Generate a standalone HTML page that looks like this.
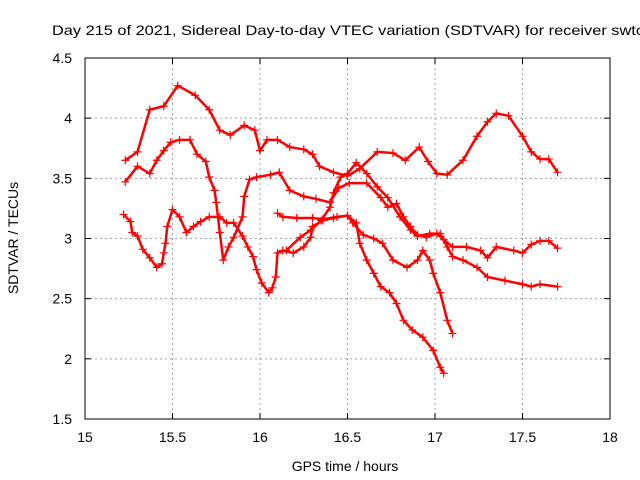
<!DOCTYPE html>
<html><head><meta charset="utf-8"><style>
body{margin:0;background:#fff;}
svg{display:block;font-family:"Liberation Sans",sans-serif;}
</style></head><body>
<svg id="chart" width="640" height="480" viewBox="0 0 640 480" xmlns="http://www.w3.org/2000/svg">
<rect width="640" height="480" fill="#fff"/>
<text x="52" y="35" font-size="14" fill="#000" textLength="592" lengthAdjust="spacingAndGlyphs">Day 215 of 2021, Sidereal Day-to-day VTEC variation (SDTVAR) for receiver swtc</text>
<g id="grid"></g>
<g id="marks"></g>
<rect x="85" y="58" width="525" height="361" fill="none" stroke="#000" stroke-width="1"/>
<g id="ticks"></g>
<text x="345" y="471" font-size="14" text-anchor="middle">GPS time / hours</text>
<text transform="translate(18,238) rotate(-90)" font-size="14" text-anchor="middle">SDTVAR / TECUs</text>
</svg>
<script>
const xTicks=[15,15.5,16,16.5,17,17.5,18];
const xTickLabels=["15","15.5","16","16.5","17","17.5","18"];
const yTicks=[1.5,2,2.5,3,3.5,4,4.5];
const yTickLabels=["1.5","2","2.5","3","3.5","4","4.5"];
const seriesA=[[15.23,3.65],[15.3,3.72],[15.37,4.07],[15.45,4.1],[15.53,4.27],[15.63,4.19],[15.71,4.07],[15.77,3.9],[15.83,3.86],[15.91,3.94],[15.97,3.9],[16.0,3.73],[16.04,3.82],[16.1,3.82],[16.17,3.76],[16.25,3.74],[16.3,3.7],[16.34,3.6],[16.42,3.55],[16.5,3.52],[16.57,3.58],[16.67,3.72],[16.76,3.71],[16.83,3.65],[16.91,3.76],[16.96,3.64],[17.01,3.54],[17.07,3.53],[17.16,3.65],[17.24,3.85],[17.3,3.97],[17.35,4.04],[17.42,4.02],[17.5,3.85],[17.55,3.72],[17.6,3.66],[17.65,3.66],[17.7,3.55]];
const seriesB=[[15.23,3.47],[15.3,3.6],[15.37,3.54],[15.41,3.65],[15.45,3.73],[15.49,3.8],[15.54,3.82],[15.6,3.82],[15.64,3.7],[15.69,3.64],[15.71,3.51],[15.74,3.4],[15.75,3.3],[15.77,3.05],[15.79,2.82],[15.82,2.93],[15.85,3.01],[15.9,3.18],[15.91,3.35],[15.94,3.49],[15.98,3.51],[16.06,3.53],[16.11,3.55],[16.17,3.4],[16.25,3.35],[16.32,3.33],[16.4,3.3],[16.45,3.42],[16.51,3.46],[16.61,3.46],[16.69,3.34],[16.73,3.26],[16.78,3.29],[16.82,3.18],[16.86,3.1],[16.9,3.03],[16.95,3.01],[17.01,3.04],[17.05,2.99],[17.1,2.93],[17.18,2.93],[17.26,2.9],[17.3,2.84],[17.35,2.93],[17.45,2.9],[17.5,2.88],[17.55,2.95],[17.6,2.98],[17.65,2.98],[17.7,2.92]];
const seriesC=[[15.22,3.2],[15.26,3.14],[15.27,3.05],[15.3,3.02],[15.33,2.91],[15.37,2.84],[15.41,2.76],[15.44,2.79],[15.45,2.88],[15.46,2.96],[15.47,3.1],[15.5,3.24],[15.54,3.18],[15.58,3.05],[15.62,3.1],[15.66,3.14],[15.71,3.18],[15.77,3.18],[15.81,3.13],[15.85,3.13],[15.9,3.02],[15.93,2.93],[15.96,2.85],[15.98,2.74],[16.01,2.63],[16.05,2.55],[16.07,2.59],[16.09,2.68],[16.1,2.88],[16.13,2.9],[16.19,2.88],[16.25,2.93],[16.29,3.01],[16.3,3.1],[16.36,3.15],[16.42,3.17],[16.5,3.19],[16.55,3.13],[16.57,2.96],[16.61,2.82],[16.65,2.71],[16.69,2.6],[16.74,2.55],[16.78,2.46],[16.82,2.32],[16.87,2.24],[16.93,2.18],[16.99,2.07],[17.03,1.93],[17.05,1.88]];
const seriesD=[[16.1,3.21],[16.13,3.18],[16.21,3.17],[16.3,3.17],[16.36,3.16],[16.44,3.18],[16.5,3.19],[16.53,3.13],[16.59,3.03],[16.65,3.0],[16.7,2.96],[16.76,2.82],[16.84,2.76],[16.9,2.82],[16.93,2.9],[16.97,2.82],[16.99,2.71],[17.03,2.55],[17.07,2.32],[17.1,2.21]];
const seriesE=[[16.15,2.9],[16.23,3.01],[16.29,3.07],[16.35,3.15],[16.4,3.26],[16.42,3.38],[16.46,3.51],[16.5,3.54],[16.55,3.63],[16.61,3.54],[16.67,3.43],[16.73,3.34],[16.8,3.18],[16.86,3.07],[16.9,3.02],[16.97,3.04],[17.03,3.04],[17.07,2.93],[17.1,2.85],[17.16,2.82],[17.24,2.76],[17.3,2.68],[17.4,2.65],[17.5,2.62],[17.55,2.6],[17.6,2.62],[17.7,2.6]];
const allSeries=[seriesA,seriesB,seriesC,seriesD,seriesE];
const X0=85,X1=610,Y0=419,Y1=58,XMIN=15,XMAX=18,YMIN=1.5,YMAX=4.5;
function xs(v){return X0+(v-XMIN)/(XMAX-XMIN)*(X1-X0);}
function ys(v){return Y0-(v-YMIN)/(YMAX-YMIN)*(Y0-Y1);}
const NS="http://www.w3.org/2000/svg";
function mk(tag,attrs,parent){const e=document.createElementNS(NS,tag);for(const k in attrs)e.setAttribute(k,attrs[k]);parent.appendChild(e);return e;}
const grid=document.getElementById('grid'),ticks=document.getElementById('ticks'),marks=document.getElementById('marks');
xTicks.forEach((t,i)=>{
  const x=xs(t);
  if(i>0&&i<xTicks.length-1){const g=mk('line',{x1:x,x2:x,y1:Y1,y2:Y0,stroke:'#a0a0a0','stroke-dasharray':'2,3'},grid);
  
  }
  const tl=mk('text',{x:x,y:Y0+23,'font-size':14,'text-anchor':'middle'},ticks);
  tl.textContent=xTickLabels[i];
  
  
  mk('line',{x1:x,x2:x,y1:Y0,y2:Y0-6,stroke:'#000'},ticks);
  mk('line',{x1:x,x2:x,y1:Y1,y2:Y1+6,stroke:'#000'},ticks);
});
yTicks.forEach((t,i)=>{
  const y=ys(t);
  if(i>0&&i<yTicks.length-1){const g=mk('line',{x1:X0,x2:X1,y1:y,y2:y,stroke:'#a0a0a0','stroke-dasharray':'2,3'},grid);
  
  }
  const tl=mk('text',{x:X0-13,y:y+5,'font-size':14,'text-anchor':'end'},ticks);
  tl.textContent=yTickLabels[i];
  
  
  mk('line',{x1:X0,x2:X0+6,y1:y,y2:y,stroke:'#000'},ticks);
  mk('line',{x1:X1,x2:X1-6,y1:y,y2:y,stroke:'#000'},ticks);
});
allSeries.forEach((s,si)=>{
  const pl=mk('polyline',{points:s.map(p=>xs(p[0])+','+ys(p[1])).join(' '),fill:'none',stroke:'#ff0000','stroke-width':2.5},marks);
  
  
  s.forEach(p=>{
    const x=xs(p[0]),y=ys(p[1]);
    const m=mk('path',{d:`M${x-4},${y}H${x+4}M${x},${y-4}V${y+4}`,stroke:'#ff0000','stroke-width':1.2},marks);
    
    
  });
});
</script>
</body></html>
